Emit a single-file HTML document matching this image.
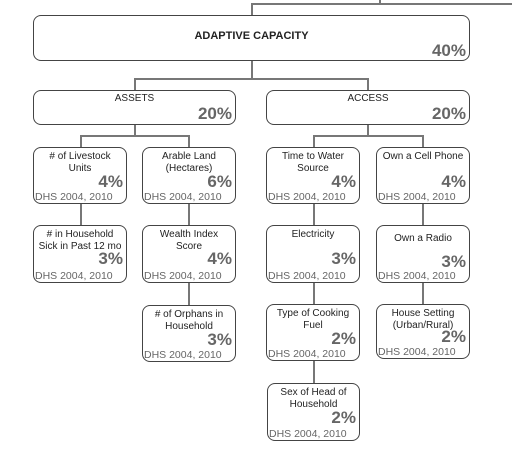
<!DOCTYPE html><html><head><style>
body{margin:0;width:512px;height:451px;background:#fff;position:relative;overflow:hidden;font-family:"Liberation Sans",sans-serif}
.b{position:absolute;border:1.5px solid #444;border-radius:8px;box-sizing:border-box;background:#fff}
.t{position:absolute;left:0;right:0;top:3px;text-align:center;font-size:10px;line-height:12px;color:#222}
.p{position:absolute;right:3px;font-weight:bold;color:#666;font-size:17px;line-height:18px}
.d{position:absolute;left:1px;bottom:0px;font-size:10.5px;color:#666;line-height:11px;white-space:nowrap}
.l{position:absolute;background:#777}
</style></head><body>
<div class="l" style="left:252px;top:3px;width:260px;height:1.5px"></div>
<div class="l" style="left:379px;top:0;width:1.5px;height:4px"></div>
<div class="l" style="left:251px;top:3px;width:1.5px;height:13px"></div>
<div class="l" style="left:251px;top:60px;width:1.5px;height:19px"></div>
<div class="l" style="left:134px;top:78px;width:235px;height:1.5px"></div>
<div class="l" style="left:134px;top:78px;width:1.5px;height:13px"></div>
<div class="l" style="left:367px;top:78px;width:1.5px;height:13px"></div>
<div class="l" style="left:134px;top:124px;width:1.5px;height:12px"></div>
<div class="l" style="left:80px;top:135px;width:109px;height:1.5px"></div>
<div class="l" style="left:80px;top:135px;width:1.5px;height:90px"></div>
<div class="l" style="left:188px;top:135px;width:1.5px;height:170px"></div>
<div class="l" style="left:367px;top:124px;width:1.5px;height:12px"></div>
<div class="l" style="left:313px;top:135px;width:109px;height:1.5px"></div>
<div class="l" style="left:313px;top:135px;width:1.5px;height:250px"></div>
<div class="l" style="left:422px;top:135px;width:1.5px;height:170px"></div>

<div class="b" style="left:33px;top:15px;width:437px;height:46px"><div class="t" style="top:14px;font-size:11px;font-weight:bold">ADAPTIVE CAPACITY</div><div class="p" style="bottom:0px">40%</div></div>
<div class="b" style="left:33px;top:90px;width:203px;height:35px"><div class="t" style="top:2px">ASSETS</div><div class="p" style="bottom:1px">20%</div></div>
<div class="b" style="left:266px;top:90px;width:204px;height:35px"><div class="t" style="top:2px">ACCESS</div><div class="p" style="bottom:1px">20%</div></div>

<div class="b" style="left:33px;top:147px;width:94px;height:57px"><div class="t"># of Livestock<br>Units</div><div class="p" style="top:25px">4%</div><div class="d">DHS 2004, 2010</div></div>
<div class="b" style="left:142px;top:147px;width:94px;height:57px"><div class="t">Arable Land<br>(Hectares)</div><div class="p" style="top:25px">6%</div><div class="d">DHS 2004, 2010</div></div>
<div class="b" style="left:33px;top:225px;width:94px;height:58px"><div class="t"># in Household<br>Sick in Past 12 mo</div><div class="p" style="top:24px">3%</div><div class="d">DHS 2004, 2010</div></div>
<div class="b" style="left:142px;top:225px;width:94px;height:58px"><div class="t">Wealth Index<br>Score</div><div class="p" style="top:24px">4%</div><div class="d">DHS 2004, 2010</div></div>
<div class="b" style="left:142px;top:305px;width:94px;height:57px"><div class="t"># of Orphans in<br>Household</div><div class="p" style="top:25px">3%</div><div class="d">DHS 2004, 2010</div></div>

<div class="b" style="left:266px;top:147px;width:94px;height:57px"><div class="t">Time to Water<br>Source</div><div class="p" style="top:25px">4%</div><div class="d">DHS 2004, 2010</div></div>
<div class="b" style="left:376px;top:147px;width:94px;height:57px"><div class="t">Own a Cell Phone</div><div class="p" style="top:25px">4%</div><div class="d">DHS 2004, 2010</div></div>
<div class="b" style="left:266px;top:225px;width:94px;height:58px"><div class="t">Electricity</div><div class="p" style="top:24px">3%</div><div class="d">DHS 2004, 2010</div></div>
<div class="b" style="left:376px;top:225px;width:94px;height:58px"><div class="t" style="top:7px">Own a Radio</div><div class="p" style="top:27px">3%</div><div class="d">DHS 2004, 2010</div></div>
<div class="b" style="left:266px;top:304px;width:94px;height:57px"><div class="t">Type of Cooking<br>Fuel</div><div class="p" style="top:25px">2%</div><div class="d">DHS 2004, 2010</div></div>
<div class="b" style="left:376px;top:304px;width:94px;height:55px"><div class="t">House Setting<br>(Urban/Rural)</div><div class="p" style="top:23px">2%</div><div class="d">DHS 2004, 2010</div></div>
<div class="b" style="left:267px;top:383px;width:93px;height:58px"><div class="t">Sex of Head of<br>Household</div><div class="p" style="top:25px">2%</div><div class="d">DHS 2004, 2010</div></div>
</body></html>
